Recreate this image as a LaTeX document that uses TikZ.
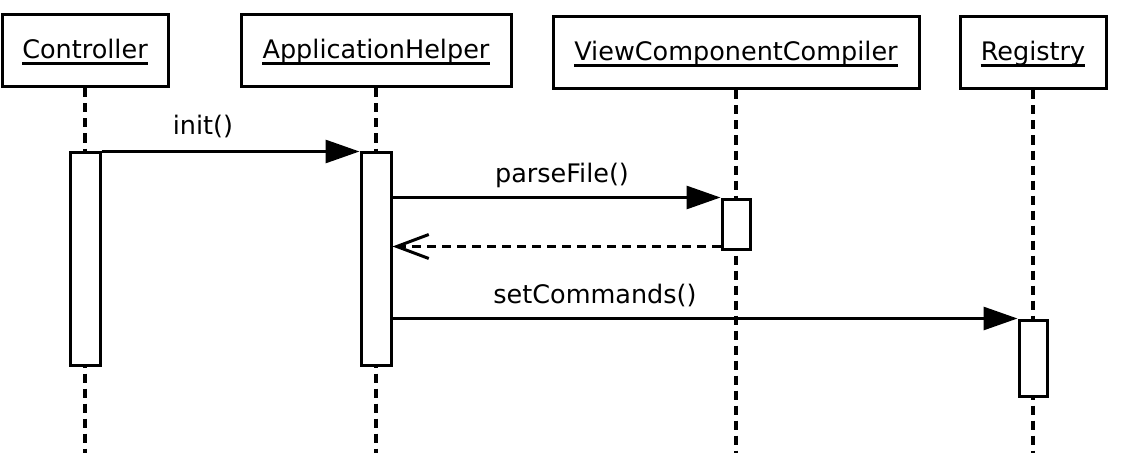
\documentclass[tikz,border=0pt]{standalone}
\usepackage{fontspec}
\setmainfont{DejaVu Sans}
\usetikzlibrary{arrows.meta}
\begin{document}
\begin{tikzpicture}[x=1pt,y=-1pt,
  objbox/.style={draw, line width=3pt, minimum height=72pt, inner sep=0pt},
  objlabel/.style={inner sep=0pt, anchor=base, font=\fontsize{25.5}{30}\selectfont},
  uline/.style={line width=3pt},
  actbox/.style={draw, fill=white, line width=3pt, inner sep=0pt},
  lifeline/.style={line width=3.5pt, dash pattern=on 9pt off 6pt},
  msg/.style={line width=3pt, -{Triangle[length=34pt,width=23pt]}},
  ret/.style={line width=3pt, dash pattern=on 9pt off 6pt, -{Straight Barb[length=32pt,width=24pt]}},
  msglabel/.style={inner sep=0pt, anchor=base, font=\fontsize{25.5}{30}\selectfont}]
\useasboundingbox (0,0) rectangle (1121,468);

% objects
\node[objbox, minimum width=166pt] (ctl) at (85,51) {};
\node[objbox, minimum width=270pt] (app) at (376,51) {};
\node[objbox, minimum width=366pt] (vcc) at (736,53) {};
\node[objbox, minimum width=146pt] (reg) at (1033,53) {};

\node[objlabel] (ctlL) at (85,58.5) {Controller};
\node[objlabel] (appL) at (376,58.5) {ApplicationHelper};
\node[objlabel] (vccL) at (736,60.5) {ViewComponentCompiler};
\node[objlabel] (regL) at (1033,60.5) {Registry};
\foreach \n in {ctlL,appL,vccL,regL}
  \draw[uline] ([yshift=-5.5pt]\n.base west) -- ([yshift=-5.5pt]\n.base east);

% lifeline ends
\coordinate (ctlE) at (85,453);
\coordinate (appE) at (376,453);
\coordinate (vccE) at (736,453);
\coordinate (regE) at (1033,453);

\draw[lifeline] (ctl.south) -- (ctlE);
\draw[lifeline] (app.south) -- (appE);
\draw[lifeline] (vcc.south) -- (vccE);
\draw[lifeline] (reg.south) -- (regE);

% activations
\node[actbox, minimum width=30pt, minimum height=213pt] (ctlA) at (85,258.5) {};
\node[actbox, minimum width=30pt, minimum height=213pt] (appA) at (376,258.5) {};
\node[actbox, minimum width=28pt, minimum height=50pt] (vccA) at (736,224) {};
\node[actbox, minimum width=28pt, minimum height=76pt] (regA) at (1033,358) {};

% messages
\draw[msg] ([yshift=-1pt]ctlA.north east) -- ([yshift=-1pt]appA.north west);
\draw[msg] (appA.east |- vccA.north west) -- (vccA.north west);
\coordinate (retS) at ([yshift=4pt]vccA.south west);
\draw[ret] (retS) -- (appA.east |- retS);
\draw[msg] (appA.east |- regA.north west) -- (regA.north west);

% labels
\node[msglabel] (l1) at (203,135) {init()};
\node[msglabel] (l2) at (562,182) {parseFile()};
\node[msglabel] (l3) at (595,303) {setCommands()};
\end{tikzpicture}
\end{document}
